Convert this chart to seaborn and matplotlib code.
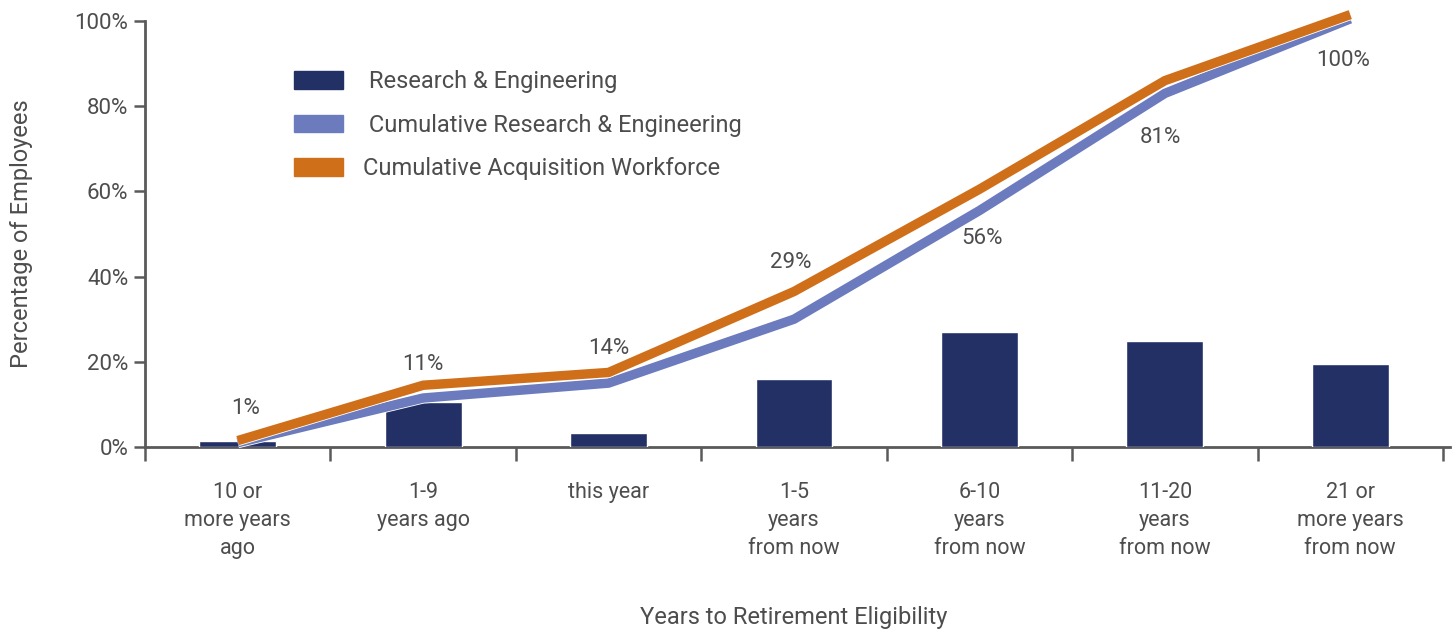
import numpy as np
import pandas as pd
import matplotlib
matplotlib.use("Agg")
import matplotlib.pyplot as plt
import matplotlib.patheffects as pe
from matplotlib.patches import Patch
import seaborn as sns

categories = ["10 or\nmore years\nago", "1-9\nyears ago", "this year",
              "1-5\nyears\nfrom now", "6-10\nyears\nfrom now",
              "11-20\nyears\nfrom now", "21 or\nmore years\nfrom now"]
research_eng = [1.5, 10.5, 3.3, 16.0, 27.0, 25.0, 19.5]
cum_research_eng = [1.0, 11.5, 15.0, 30.0, 55.5, 83.0, 100.5]
cum_acq_workforce = [1.5, 14.5, 17.5, 36.5, 60.5, 86.0, 101.5]
point_labels = ["1%", "11%", "14%", "29%", "56%", "81%", "100%"]
label_dx = [8, 0, 0, -3, 3, -4, -7]          # pixels
label_dy = [34, 34, 35, 57, -28, -44, -42]  # pixels relative to cumulative R&E line
yticks = [0, 20, 40, 60, 80, 100]
ytick_labels = ["0%", "20%", "40%", "60%", "80%", "100%"]

NAVY = "#223066"
BLUE = "#6b7bbd"
ORANGE = "#d06f1a"
TEXT = "#4d4d4d"
SPINE = "#5a5a5a"

sns.set_theme(style="white")
plt.rcParams["font.family"] = ["Roboto", "DejaVu Sans"]
plt.rcParams["text.color"] = TEXT

fig = plt.figure(figsize=(14.54, 6.33), dpi=100)
ax = fig.add_axes([145 / 1454, (633 - 447) / 633, (1443 - 145) / 1454, (447 - 21) / 633])

df = pd.DataFrame({"cat": categories, "val": research_eng})
sns.barplot(data=df, x="cat", y="val", color=NAVY, width=0.415, saturation=1, ax=ax, zorder=2)

xs = np.arange(len(categories))
stroke = [pe.Stroke(linewidth=8.0, foreground="white", capstyle="butt"), pe.Normal()]
sns.lineplot(x=xs, y=cum_research_eng, color=BLUE, lw=6.8, ax=ax, zorder=3,
             clip_on=False, path_effects=stroke, solid_capstyle="butt")
sns.lineplot(x=xs, y=cum_acq_workforce, color=ORANGE, lw=6.8, ax=ax, zorder=4,
             clip_on=False, path_effects=stroke, solid_capstyle="butt")

for i, lab in enumerate(point_labels):
    ax.annotate(lab, xy=(xs[i], cum_research_eng[i]),
                xytext=(label_dx[i] * 0.72, label_dy[i] * 0.72),
                textcoords="offset points", ha="center", va="center",
                fontsize=16, color=TEXT, zorder=5, annotation_clip=False)

ax.set_xlim(-0.5, 6.5)
ax.set_ylim(0, 100)
ax.set_yticks(yticks)
ax.set_yticklabels(ytick_labels)
ax.set_xticks(xs)
ax.set_xticklabels(categories, fontsize=15.5, color=TEXT, linespacing=1.45, va="top")
ax.set_xticks(np.arange(-0.5, 7, 1), minor=True)
ax.tick_params(axis="x", which="major", length=0, pad=25)
ax.tick_params(axis="x", which="minor", length=10, width=1.8, color=SPINE, direction="out", bottom=True)
ax.tick_params(axis="y", length=8, width=1.8, color=SPINE, direction="out", left=True,
               labelsize=16, labelcolor=TEXT, pad=4)

for s in ["top", "right"]:
    ax.spines[s].set_visible(False)
for s in ["left", "bottom"]:
    ax.spines[s].set_color(SPINE)
    ax.spines[s].set_linewidth(2)
    ax.spines[s].set_zorder(1)
ax.spines["bottom"].set_bounds(-0.5, 6.54)

ax.set_xlabel("Years to Retirement Eligibility", fontsize=17, color=TEXT, labelpad=34)
ax.set_ylabel("Percentage of Employees", fontsize=17, color=TEXT, labelpad=30)

handles = [Patch(color=NAVY), Patch(color=BLUE), Patch(color=ORANGE)]
labels = [" Research & Engineering", " Cumulative Research & Engineering", "Cumulative Acquisition Workforce"]
fig.legend(handles, labels, loc="upper left", bbox_to_anchor=(273 / 1454, 1 - 49 / 633),
           frameon=False, fontsize=17, handlelength=2.05, handleheight=0.78,
           handletextpad=0.85, labelspacing=0.87, labelcolor=TEXT)

fig.savefig("out.png", dpi=100)
